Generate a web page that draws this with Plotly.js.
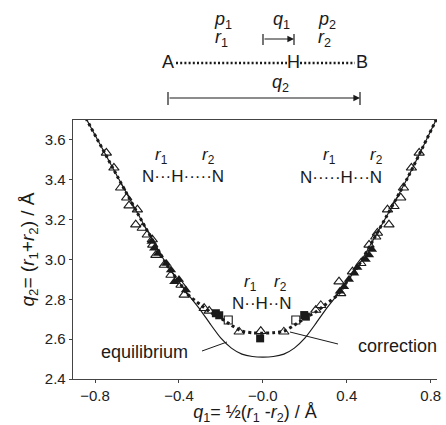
<!DOCTYPE html>
<html><head><meta charset="utf-8">
<script src="https://cdn.plot.ly/plotly-3.0.1.min.js"></script>
<style>html,body{margin:0;padding:0;background:#fff}#chart{width:446px;height:425px}</style>
</head><body><div id="chart"></div>
<script>
// Equilibrium curve q2(q1)
const eqQ1 = [-0.844,-0.69,-0.553,-0.45,-0.40,-0.36,-0.30,-0.25,-0.20,-0.15,-0.10,-0.05,0,0.05,0.10,0.15,0.20,0.25,0.30,0.36,0.40,0.45,0.553,0.69,0.83];
const eqQ2 = [3.71,3.41,3.148,2.96,2.888,2.83,2.75,2.675,2.605,2.555,2.525,2.513,2.51,2.513,2.525,2.555,2.605,2.675,2.75,2.83,2.888,2.96,3.148,3.41,3.71];
// Corrected curve (dotted)
const corQ1 = [-0.844,-0.69,-0.553,-0.45,-0.40,-0.36,-0.30,-0.25,-0.20,-0.15,-0.10,-0.05,0,0.05,0.10,0.15,0.20,0.25,0.30,0.36,0.40,0.45,0.553,0.69,0.83];
const corQ2 = [3.71,3.41,3.148,2.96,2.888,2.826,2.775,2.735,2.705,2.67,2.64,2.632,2.63,2.632,2.64,2.67,2.705,2.735,2.775,2.826,2.888,2.96,3.148,3.41,3.71];
// Open triangles
const otQ1 = [-0.746,-0.71,-0.678,-0.649,-0.638,-0.598,-0.606,-0.575,-0.551,-0.527,-0.525,-0.51,-0.47,-0.438,-0.39,-0.375,-0.28,-0.256,-0.113,-0.01,0.10,0.252,0.276,0.371,0.363,0.427,0.467,0.506,0.538,0.546,0.601,0.594,0.625,0.657,0.67,0.708,0.745];
const otQ2 = [3.535,3.46,3.36,3.31,3.27,3.25,3.175,3.158,3.124,3.10,3.073,3.022,2.972,2.922,2.872,2.822,2.755,2.742,2.637,2.64,2.637,2.746,2.77,2.83,2.889,2.939,2.981,3.073,3.114,3.133,3.175,3.25,3.267,3.31,3.36,3.46,3.535];
// Filled triangles
const ftQ1 = [-0.53,-0.518,-0.50,-0.46,-0.438,-0.422,-0.40,-0.367,0.367,0.387,0.41,0.435,0.45,0.49,0.506,0.52];
const ftQ2 = [3.09,3.056,3.03,2.98,2.947,2.888,2.90,2.847,2.84,2.863,2.90,2.931,2.96,3.0,3.022,3.05];
// Open squares
const osQ1 = [-0.165,0.157];
const osQ2 = [2.696,2.696];
// Filled squares
const fsQ1 = [-0.224,-0.208,-0.013,0.197,0.205];
const fsQ2 = [2.73,2.72,2.604,2.721,2.713];
// Axis ticks
const xTickVals = [-0.8,-0.4,0,0.4,0.8];
const xTickText = ['\u22120.8','\u22120.4','\u22120.0','0.4','0.8'];
const yTickVals = [2.4,2.6,2.8,3.0,3.2,3.4,3.6];
const yTickText = ['2.4','2.6','2.8','3.0','3.2','3.4','3.6'];

const FONT = 'Liberation Sans, Arial, sans-serif';
const TICKFONT = 'Liberation Sans Narrow, Liberation Sans, Arial, sans-serif';
const INK = '#1a1a1a';

const traces = [
  {x: eqQ1, y: eqQ2, mode: 'lines', line: {color: INK, width: 1.2, shape: 'spline', smoothing: 0.6}, hoverinfo: 'skip'},
  {x: corQ1, y: corQ2, mode: 'lines', line: {color: INK, width: 3, dash: 'dot', shape: 'spline', smoothing: 0.6}, hoverinfo: 'skip'},
  {x: ftQ1, y: ftQ2, mode: 'markers', marker: {symbol: 'triangle-up', size: 9, color: INK}},
  {x: fsQ1, y: fsQ2, mode: 'markers', marker: {symbol: 'square', size: 8, color: INK}},
  {x: otQ1, y: otQ2, mode: 'markers', marker: {symbol: 'triangle-up-open', size: 9, color: INK, line: {width: 1.1}}},
  {x: osQ1, y: osQ2, mode: 'markers', marker: {symbol: 'square-open', size: 8, color: INK, line: {width: 1.1}}}
];

const L = 73, R = 437, T = 120, B = 379;
const PX = x => (x - L) / (R - L);
const PY = y => (B - y) / (B - T);

function ann(text, x, y, size, extra) {
  return Object.assign({text: text, x: PX(x), y: PY(y), xref: 'paper', yref: 'paper',
    showarrow: false, xanchor: 'center', yanchor: 'middle',
    font: {family: FONT, size: size, color: INK}}, extra || {});
}
function seg(x0, y0, x1, y1, w, dash) {
  return {type: 'line', xref: 'paper', yref: 'paper', x0: PX(x0), y0: PY(y0), x1: PX(x1), y1: PY(y1),
    line: {color: INK, width: w, dash: dash || 'solid'}};
}
function arrow(xTip, yTip, len) {
  return {text: '', x: PX(xTip), y: PY(yTip), xref: 'paper', yref: 'paper', showarrow: true,
    ax: -len, ay: 0, arrowhead: 2, arrowsize: 1.1, arrowwidth: 1.2, arrowcolor: INK, standoff: 0};
}

const annotations = [
  ann('<i>p</i><sub>1</sub>', 223, 20, 18),
  ann('<i>r</i><sub>1</sub>', 221, 39, 18),
  ann('<i>q</i><sub>1</sub>', 281, 20, 18),
  ann('<i>p</i><sub>2</sub>', 327, 20, 18),
  ann('<i>r</i><sub>2</sub>', 324, 39, 18),
  ann('A', 168, 62, 18),
  ann('H', 293, 62, 18),
  ann('B', 362, 62, 18),
  ann('<i>q</i><sub>2</sub>', 280, 83, 18),
  arrow(294, 39, 31),
  arrow(360, 98, 192),
  ann('<i>r</i><sub>1</sub>', 161, 156, 17),
  ann('<i>r</i><sub>2</sub>', 208, 156, 17),
  ann('N\u00b7\u00b7\u00b7H\u00b7\u00b7\u00b7\u00b7\u00b7N', 183, 176, 17),
  ann('<i>r</i><sub>1</sub>', 329, 156, 17),
  ann('<i>r</i><sub>2</sub>', 376, 156, 17),
  ann('N\u00b7\u00b7\u00b7\u00b7\u00b7H\u00b7\u00b7\u00b7N', 341, 177, 17),
  ann('<i>r</i><sub>1</sub>', 250, 283, 17),
  ann('<i>r</i><sub>2</sub>', 280, 283, 17),
  ann('N\u00b7\u00b7H\u00b7\u00b7N', 261, 303, 17),
  ann('equilibrium', 144, 352, 18),
  ann('correction', 397, 346, 18)
];

const shapes = [
  seg(176, 63, 287, 63, 2.4, '2px,2.2px'),
  seg(300, 63, 355, 63, 2.4, '2px,2.2px'),
  seg(263, 34, 263, 45, 1.2),
  seg(294, 34, 294, 45, 1.2),
  seg(168, 92, 168, 105, 1.2),
  seg(360, 92, 360, 105, 1.2),
  seg(202, 351, 227, 342, 1),
  seg(290, 332, 338, 344, 1)
];

const layout = {
  width: 446, height: 425,
  margin: {l: L, r: 446 - R, t: T, b: 425 - B},
  paper_bgcolor: '#fff', plot_bgcolor: '#fff',
  showlegend: false,
  font: {family: FONT, color: INK},
  xaxis: {
    range: [-0.905, 0.83], tickvals: xTickVals, ticktext: xTickText,
    showline: true, mirror: true, linecolor: '#444', linewidth: 1.3,
    ticks: 'outside', ticklen: 3, tickcolor: '#444', showgrid: false, zeroline: false,
    tickfont: {family: TICKFONT, size: 15, color: '#222'},
    title: {text: '<i>q</i><sub>1</sub>= \u00bd(<i>r</i><sub>1</sub> -<i>r</i><sub>2</sub>) / \u00c5', font: {family: FONT, size: 18, color: INK}, standoff: 11}
  },
  yaxis: {
    range: [2.4, 3.70], tickvals: yTickVals, ticktext: yTickText,
    showline: true, linecolor: '#444', linewidth: 1.3,
    ticks: 'outside', ticklen: 3, tickcolor: '#444', showgrid: false, zeroline: false,
    tickfont: {family: TICKFONT, size: 15, color: '#222'},
    title: {text: '<i>q</i><sub>2</sub>= (<i>r</i><sub>1</sub>+<i>r</i><sub>2</sub>) / \u00c5', font: {family: FONT, size: 19, color: INK}, standoff: 5}
  },
  annotations: annotations,
  shapes: shapes
};

Plotly.newPlot('chart', traces, layout, {displayModeBar: false, staticPlot: true});
</script>
</body></html>
